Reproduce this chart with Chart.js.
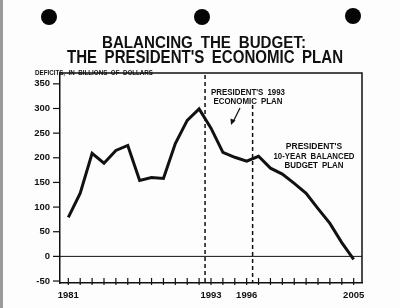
<!DOCTYPE html>
<html>
<head>
<meta charset="utf-8">
<script src="https://cdn.jsdelivr.net/npm/chart.js@4/dist/chart.umd.min.js"></script>
<style>
html, body { margin: 0; padding: 0; background: #fff; }
#wrap { position: relative; width: 400px; height: 308px; background: #fdfdfd; overflow: hidden; }
#wrap canvas { position: absolute; left: 0; top: 0; }
.hole { position: absolute; width: 16px; height: 16px; border-radius: 50%; background: #050505; }
.edge { position: absolute; left: 0; top: 0; width: 3px; height: 308px; background: #9a9a9a; }
</style>
</head>
<body>
<div id="wrap">
  <canvas id="budgetChart" width="400" height="308"></canvas>
  <div class="hole" style="left:41px;top:9px"></div>
  <div class="hole" style="left:194px;top:9px"></div>
  <div class="hole" style="left:345px;top:8px"></div>
  <div class="edge"></div>
</div>
<script>
// données (milliards de dollars)
const years = [1981, 1982, 1983, 1984, 1985, 1986, 1987, 1988, 1989, 1990, 1991, 1992, 1993,
               1994, 1995, 1996, 1997, 1998, 1999, 2000, 2001, 2002, 2003, 2004, 2005];
const deficits = [79, 128, 209, 189, 215, 225, 154, 160, 158, 229, 276, 299, 260,
                  211, 201, 193, 203, 179, 167, 148, 128, 97, 67, 28, -6];
const yearLabels = [1981, 1993, 1996, 2005];
const planStarts = [1992.5, 1996.5];   // lignes pointillées
const titleLines = ['BALANCING THE BUDGET:', "THE PRESIDENT'S ECONOMIC PLAN"];
const yAxisTitle = 'DEFICITS, IN BILLIONS OF DOLLARS';
const note1993 = ["PRESIDENT'S 1993", 'ECONOMIC PLAN'];
const noteTenYear = ["PRESIDENT'S", '10-YEAR BALANCED', 'BUDGET PLAN'];

const FONT = '"Liberation Sans", Arial, sans-serif';
const INK = '#111';

const decorPlugin = {
    id: 'decor',
    afterDraw(chart) {
        const ctx = chart.ctx;
        const area = chart.chartArea;
        const xs = chart.scales.x, ys = chart.scales.y;
        ctx.save();
        ctx.strokeStyle = INK; ctx.fillStyle = INK;

        // cadre haut + droite
        ctx.lineWidth = 1.5;
        ctx.beginPath();
        ctx.moveTo(area.left, area.top); ctx.lineTo(area.right, area.top); ctx.lineTo(area.right, area.bottom);
        ctx.stroke();

        // ligne du zéro
        ctx.lineWidth = 1;
        const y0 = ys.getPixelForValue(0);
        ctx.beginPath(); ctx.moveTo(area.left, y0); ctx.lineTo(area.right, y0); ctx.stroke();

        // pointillés
        ctx.lineWidth = 1.5;
        ctx.setLineDash([4, 3]);
        planStarts.forEach((yr, i) => {
            const px = xs.getPixelForValue(yr);
            ctx.beginPath();
            ctx.moveTo(px, i === 0 ? area.top + 2 : area.top + 32);
            ctx.lineTo(px, area.bottom);
            ctx.stroke();
        });
        ctx.setLineDash([]);

        // graduations Y
        ctx.lineWidth = 1.2;
        ys.ticks.forEach(t => {
            const py = ys.getPixelForValue(t.value);
            const major = t.value % 50 === 0;
            ctx.beginPath();
            ctx.moveTo(area.left - (major ? 7 : 3), py); ctx.lineTo(area.left + (major ? 0 : 1), py);
            ctx.stroke();
        });
        // graduations X
        years.forEach(yr => {
            const px = xs.getPixelForValue(yr);
            ctx.beginPath(); ctx.moveTo(px, area.bottom - 5); ctx.lineTo(px, area.bottom + 2); ctx.stroke();
        });

        // titre
        ctx.textAlign = 'center'; ctx.textBaseline = 'alphabetic';
        ctx.wordSpacing = '4px';
        ctx.font = 'bold 17px ' + FONT;
        ctx.fillText(titleLines[0], 204, 48, 204);
        ctx.font = 'bold 18px ' + FONT;
        ctx.fillText(titleLines[1], 205, 63, 276);

        // titre de l'axe
        ctx.wordSpacing = '2px';
        ctx.textAlign = 'left';
        ctx.font = 'bold 7px ' + FONT;
        ctx.fillText(yAxisTitle, 35, 75, 118);

        // annotations
        ctx.textAlign = 'center';
        ctx.font = 'bold 8.5px ' + FONT;
        ctx.fillText(note1993[0], 248, 95, 74);
        ctx.fillText(note1993[1], 248, 104, 69);
        ctx.fillText(noteTenYear[0], 314, 149);
        ctx.fillText(noteTenYear[1], 314, 159, 81);
        ctx.fillText(noteTenYear[2], 314, 168, 59);
        ctx.wordSpacing = '0px';

        // flèche
        ctx.lineWidth = 1.2;
        ctx.beginPath(); ctx.moveTo(240, 108); ctx.lineTo(233, 122); ctx.stroke();
        ctx.beginPath(); ctx.moveTo(231, 125); ctx.lineTo(230.5, 118.5); ctx.lineTo(235.5, 120.5); ctx.closePath(); ctx.fill();

        ctx.restore();
    }
};

function createBudgetChart() {
    const ctx = document.getElementById('budgetChart').getContext('2d');
    try {
        new Chart(ctx, {
            type: 'line',
            data: {
                datasets: [{
                    label: 'Deficits',
                    data: years.map((yr, i) => ({ x: yr, y: deficits[i] })),
                    borderColor: INK,
                    borderWidth: 3,
                    pointRadius: 0,
                    tension: 0,
                    fill: false
                }]
            },
            options: {
                responsive: false, animation: false,
                layout: { padding: { left: 0, top: 73, right: 38, bottom: 0 } },
                plugins: { legend: { display: false }, tooltip: { enabled: false }, title: { display: false } },
                scales: {
                    x: {
                        type: 'linear', min: 1980.3, max: 2005.7,
                        afterFit: s => { s.height = 25; },
                        grid: { display: false, drawTicks: false },
                        border: { display: true, color: INK, width: 1.5 },
                        ticks: {
                            stepSize: 1, includeBounds: false, autoSkip: false, maxRotation: 0, padding: 7,
                            color: INK, font: { family: FONT, size: 9.5, weight: 'bold' },
                            callback: v => yearLabels.includes(v) ? String(v) : ''
                        }
                    },
                    y: {
                        min: -54, max: 372,
                        afterFit: s => { s.width = 60; },
                        grid: { display: false, drawTicks: false },
                        border: { display: true, color: INK, width: 1.5 },
                        ticks: {
                            stepSize: 25, includeBounds: false, padding: 10,
                            color: INK, font: { family: FONT, size: 9.5, weight: 'bold' },
                            callback: v => v % 50 === 0 ? String(v) : ''
                        }
                    }
                }
            },
            plugins: [decorPlugin]
        });
    } catch (e) { console.error('Erreur création graphique:', e); }
}

createBudgetChart();
</script>
</body>
</html>
